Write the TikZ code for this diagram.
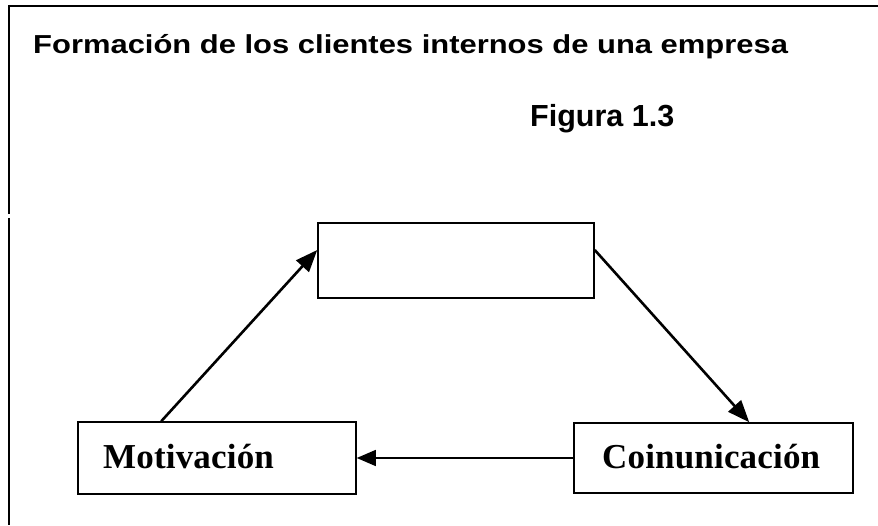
\documentclass[tikz,border=0pt]{standalone}
\usepackage{fontspec}
\setmainfont{Liberation Serif}
\setsansfont{Liberation Sans}
\usetikzlibrary{arrows.meta,calc}
\begin{document}
\begin{tikzpicture}[x=1pt,y=1pt,
  box/.style={draw,line width=1.5pt,inner sep=0pt},
  lbl/.style={font=\fontsize{35}{40}\selectfont\bfseries\rmfamily\addfontfeature{LetterSpace=0.5},inner sep=0pt},
  conn/.style={line width=2.6pt,-{Triangle[length=22pt,width=17pt]}},
  frame/.style={line width=2pt}]
\useasboundingbox (0,0) rectangle (878,525);
% frame
\draw[frame] (8,519) -- (878,519);
\draw[frame] (9,520) -- (9,311);
\draw[frame] (9,307) -- (9,0);
% titles
\node[anchor=base west,inner sep=0pt,font=\fontsize{26}{30}\selectfont\bfseries\sffamily\addfontfeature{FakeStretch=1.19}] (title) at (33,471) {Formación de los clientes internos de una empresa};
\node[anchor=base west,inner sep=0pt,font=\fontsize{30.5}{34}\selectfont\bfseries\sffamily] (fig) at (530,398) {Figura 1.3};
% boxes
\node[box,minimum width=276pt,minimum height=75pt] (top) at (456,264.5) {};
\node[box,minimum width=278pt,minimum height=72pt] (mot) at (217,67) {};
\node[box,minimum width=279pt,minimum height=70pt] (coin) at (713.5,67) {};
\node[lbl,anchor=base west] (motl) at (103,57) {Motivación};
\node[lbl,anchor=base west] (coinl) at (602,57) {Coinunicación};
% connectors
\draw[conn] ($(mot.north west)+(84,0)$) -- ($(top.west)+(0,10.5)$);
\draw[conn] ($(top.east)+(0,10.5)$) -- ($(coin.north west)+(176,0)$);
\draw[line width=1.2pt,-{Triangle[length=19pt,width=16pt]}] (coin.west) -- (mot.east);
\end{tikzpicture}
\end{document}
